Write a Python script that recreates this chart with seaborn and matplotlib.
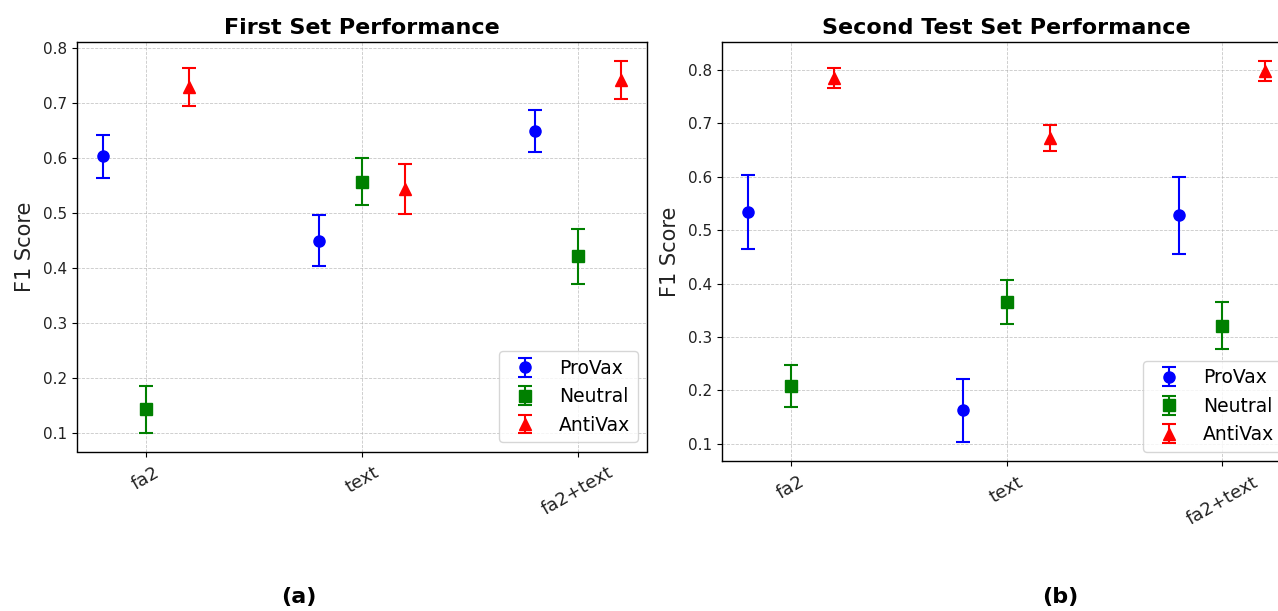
import matplotlib
matplotlib.use("Agg")
import matplotlib.pyplot as plt
import seaborn as sns
import numpy as np

# ---- data ----
categories = ["fa2", "text", "fa2+text"]
classes = ["ProVax", "Neutral", "AntiVax"]

set1_means = {
    "ProVax": [0.603, 0.450, 0.649],
    "Neutral": [0.144, 0.557, 0.422],
    "AntiVax": [0.729, 0.544, 0.742],
}
set1_errs = {
    "ProVax": [0.039, 0.046, 0.038],
    "Neutral": [0.043, 0.043, 0.050],
    "AntiVax": [0.035, 0.045, 0.035],
}
set2_means = {
    "ProVax": [0.534, 0.162, 0.528],
    "Neutral": [0.208, 0.366, 0.321],
    "AntiVax": [0.785, 0.673, 0.798],
}
set2_errs = {
    "ProVax": [0.070, 0.059, 0.072],
    "Neutral": [0.040, 0.041, 0.044],
    "AntiVax": [0.019, 0.025, 0.019],
}
titles = ["First Set Performance", "Second Test Set Performance"]
captions = ["(a)", "(b)"]

colors = {"ProVax": "blue", "Neutral": "green", "AntiVax": "red"}
markers = {"ProVax": "o", "Neutral": "s", "AntiVax": "^"}
offsets = {"ProVax": -0.2, "Neutral": 0.0, "AntiVax": 0.2}

sns.set_style("ticks", {
    "axes.grid": True,
    "grid.linestyle": "--",
    "grid.color": "#b0b0b0",
    "axes.edgecolor": "black",
    "xtick.color": "black",
    "ytick.color": "black",
    "text.color": "black",
    "axes.labelcolor": "#222222",
})
plt.rcParams["font.family"] = ["DejaVu Sans"]

fig = plt.figure(figsize=(12.78, 6.11), dpi=100)
W, H = 1278, 611
ax1 = fig.add_axes([77 / W, 1 - 451.5 / H, (647 - 77) / W, (451.5 - 42) / H])
ax2 = fig.add_axes([722 / W, 1 - 461 / H, (1291 - 722) / W, (461 - 42) / H])


def draw(ax, means, errs, title):
    xbase = np.arange(len(categories))
    for cls in classes:
        ax.errorbar(xbase + offsets[cls], means[cls], yerr=errs[cls],
                    fmt=markers[cls], color=colors[cls], ecolor=colors[cls],
                    capsize=5, markersize=8, elinewidth=1.5, capthick=1.5,
                    label=cls)
    ax.set_xticks(xbase)
    ax.set_xticklabels(categories, rotation=30, fontsize=13)
    ax.tick_params(axis="x", labelcolor="#222222", pad=5)
    ax.tick_params(axis="y", labelsize=11, labelcolor="#222222")
    ax.set_ylabel("F1 Score", fontsize=15, labelpad=6)
    ax.set_title(title, fontsize=16, fontweight="bold", color="black")
    ax.grid(True, linestyle="--", linewidth=0.6, alpha=0.7)
    ax.legend(loc="lower right", fontsize=13.5, frameon=True)
    for s in ax.spines.values():
        s.set_linewidth(1.0)


draw(ax1, set1_means, set1_errs, titles[0])
draw(ax2, set2_means, set2_errs, titles[1])

fig.text(299 / W, 1 - 597 / H, captions[0], fontsize=16, fontweight="bold",
         ha="center", va="center", color="black")
fig.text(1060 / W, 1 - 597 / H, captions[1], fontsize=16, fontweight="bold",
         ha="center", va="center", color="black")

fig.savefig("out.png", dpi=100)
